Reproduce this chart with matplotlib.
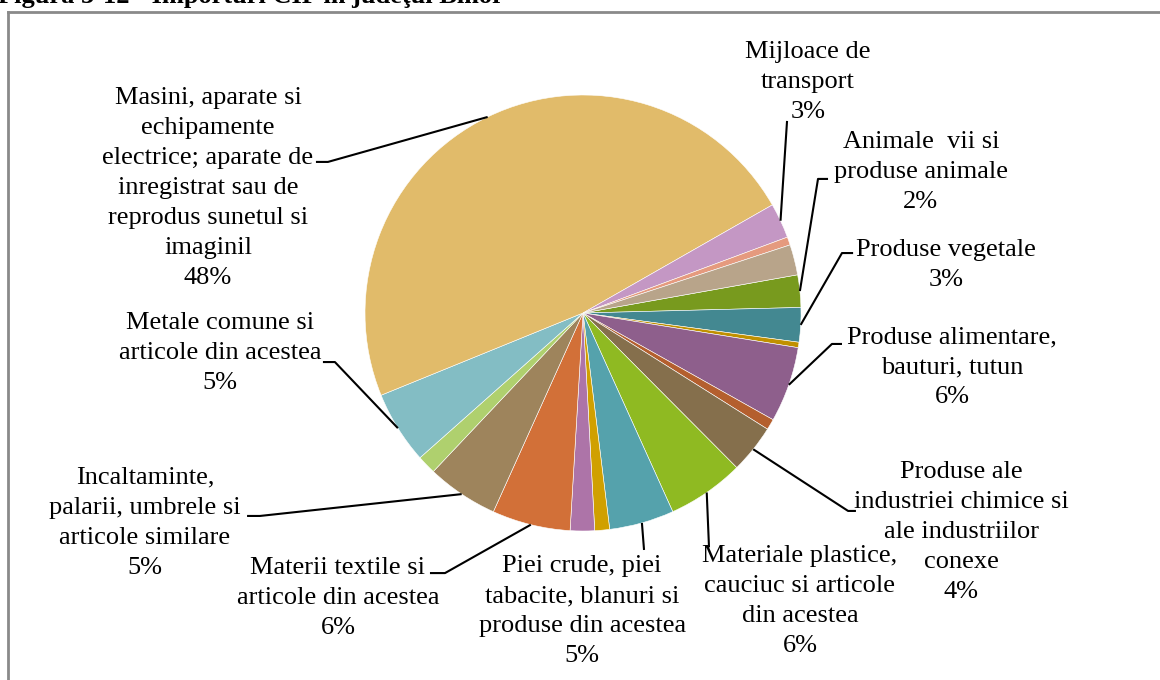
import numpy as np
import matplotlib
matplotlib.use("Agg")
import matplotlib.pyplot as plt
from matplotlib.lines import Line2D

# import shares (%) by product group, clockwise from "Animale vii"
categories = [
    "Animale vii si produse animale", "Produse vegetale", "Grasimi si uleiuri",
    "Produse alimentare, bauturi, tutun", "Produse minerale",
    "Produse ale industriei chimice si ale industriilor conexe",
    "Materiale plastice, cauciuc si articole din acestea",
    "Piei crude, piei tabacite, blanuri si produse din acestea",
    "Lemn si articole din lemn", "Hartie si carton",
    "Materii textile si articole din acestea",
    "Incaltaminte, palarii, umbrele si articole similare",
    "Articole din piatra, ceramica, sticla",
    "Metale comune si articole din acestea",
    "Masini, aparate si echipamente electrice",
    "Mijloace de transport", "Instrumente optice", "Diverse",
]
values = [2.4, 2.55, 0.4, 5.6, 0.8, 3.6, 5.7, 4.8, 1.1, 1.8,
          5.8, 5.3, 1.4, 5.4, 47.9, 2.6, 0.6, 2.25]
colors = ["#789A1E", "#438891", "#C09000", "#8E5F8C", "#B45F2E", "#856F4C",
          "#8FBA22", "#55A2AC", "#D0A000", "#AD74A8", "#D27038", "#9E845C",
          "#AFD06E", "#83BDC4", "#E1BB6A", "#C497C4", "#E59A7E", "#B8A48A"]

# label text (without percent) for the labelled slices, index -> text
label_text = {
    14: "Masini, aparate si\nechipamente\nelectrice; aparate de\ninregistrat sau de\nreprodus sunetul si\nimaginil",
    15: "Mijloace de\ntransport",
    0: "Animale  vii si\nproduse animale",
    1: "Produse vegetale",
    3: "Produse alimentare,\nbauturi, tutun",
    5: "Produse ale\nindustriei chimice si\nale industriilor\nconexe",
    6: "Materiale plastice,\ncauciuc si articole\ndin acestea",
    7: "Piei crude, piei\ntabacite, blanuri si\nproduse din acestea",
    10: "Materii textile si\narticole din acestea",
    11: "Incaltaminte,\npalarii, umbrele si\narticole similare",
    13: "Metale comune si\narticole din acestea",
}

# layout: label centre, leader start and elbow (pie radius = 1)
label_pos = {
    14: (-1.72, 0.573), 15: (1.032, 1.06), 0: (1.55, 0.647), 1: (1.665, 0.22),
    3: (1.693, -0.248), 5: (1.734, -1.005), 6: (0.995, -1.321),
    7: (-0.004, -1.367), 10: (-1.124, -1.307), 11: (-2.009, -0.963),
    13: (-1.665, -0.183),
}
leader = {
    14: [(-1.225, 0.693), (-1.17, 0.693)],
    15: [(0.936, 0.881)],
    0: [(1.124, 0.615), (1.078, 0.615)],
    1: [(1.239, 0.275), (1.188, 0.275)],
    3: [(1.188, -0.142), (1.142, -0.142)],
    5: [(1.252, -0.908), (1.216, -0.908)],
    6: [(0.578, -1.075)],
    7: [(0.28, -1.087)],
    10: [(-0.702, -1.193), (-0.633, -1.193)],
    11: [(-1.541, -0.931), (-1.482, -0.931)],
    13: [(-1.193, -0.225), (-1.138, -0.225)],
}

W, H = 1160, 680
cx, cy, R = 583, 313, 218

fig = plt.figure(figsize=(W / 100, H / 100), dpi=100)
ax = fig.add_axes([0, 0, 1, 1])

start = 10.1
wedges, _ = ax.pie(values, colors=colors, startangle=start, counterclock=False,
                   radius=1, center=(0, 0), frame=True,
                   wedgeprops=dict(edgecolor="white", linewidth=0.4))
ax.set_xlim(-cx / R, (W - cx) / R)
ax.set_ylim((cy - H) / R, cy / R)
ax.set_aspect("auto")
ax.axis("off")

total = sum(values)
serif = "Liberation Serif"
for i, txt in label_text.items():
    pct = int(values[i] / total * 100 + 0.5)
    x, y = label_pos[i]
    ax.text(x, y, f"{txt}\n{pct}%", ha="center", va="center", fontsize=19,
            family=serif, linespacing=1.47, color="black")
    w = wedges[i]
    mid = np.deg2rad((w.theta1 + w.theta2) / 2)
    pts = leader[i] + [(np.cos(mid), np.sin(mid))]
    xs, ys = zip(*pts)
    ax.plot(xs, ys, color="black", lw=1.5, solid_capstyle="butt")

# chart frame and (cropped) caption
fig.add_artist(Line2D([8 / W, 8 / W], [0, 1 - 12 / H], color="#8a8a8a", lw=2))
fig.add_artist(Line2D([8 / W, 1], [1 - 12 / H, 1 - 12 / H], color="#8a8a8a", lw=2))
fig.text(-0.002, 1 - 3 / H, "Figura 3-12 - Importuri CIF in judeţul Bihor",
         family=serif, fontweight="bold", fontsize=19, va="baseline", ha="left")

fig.savefig("out.png", dpi=100)
